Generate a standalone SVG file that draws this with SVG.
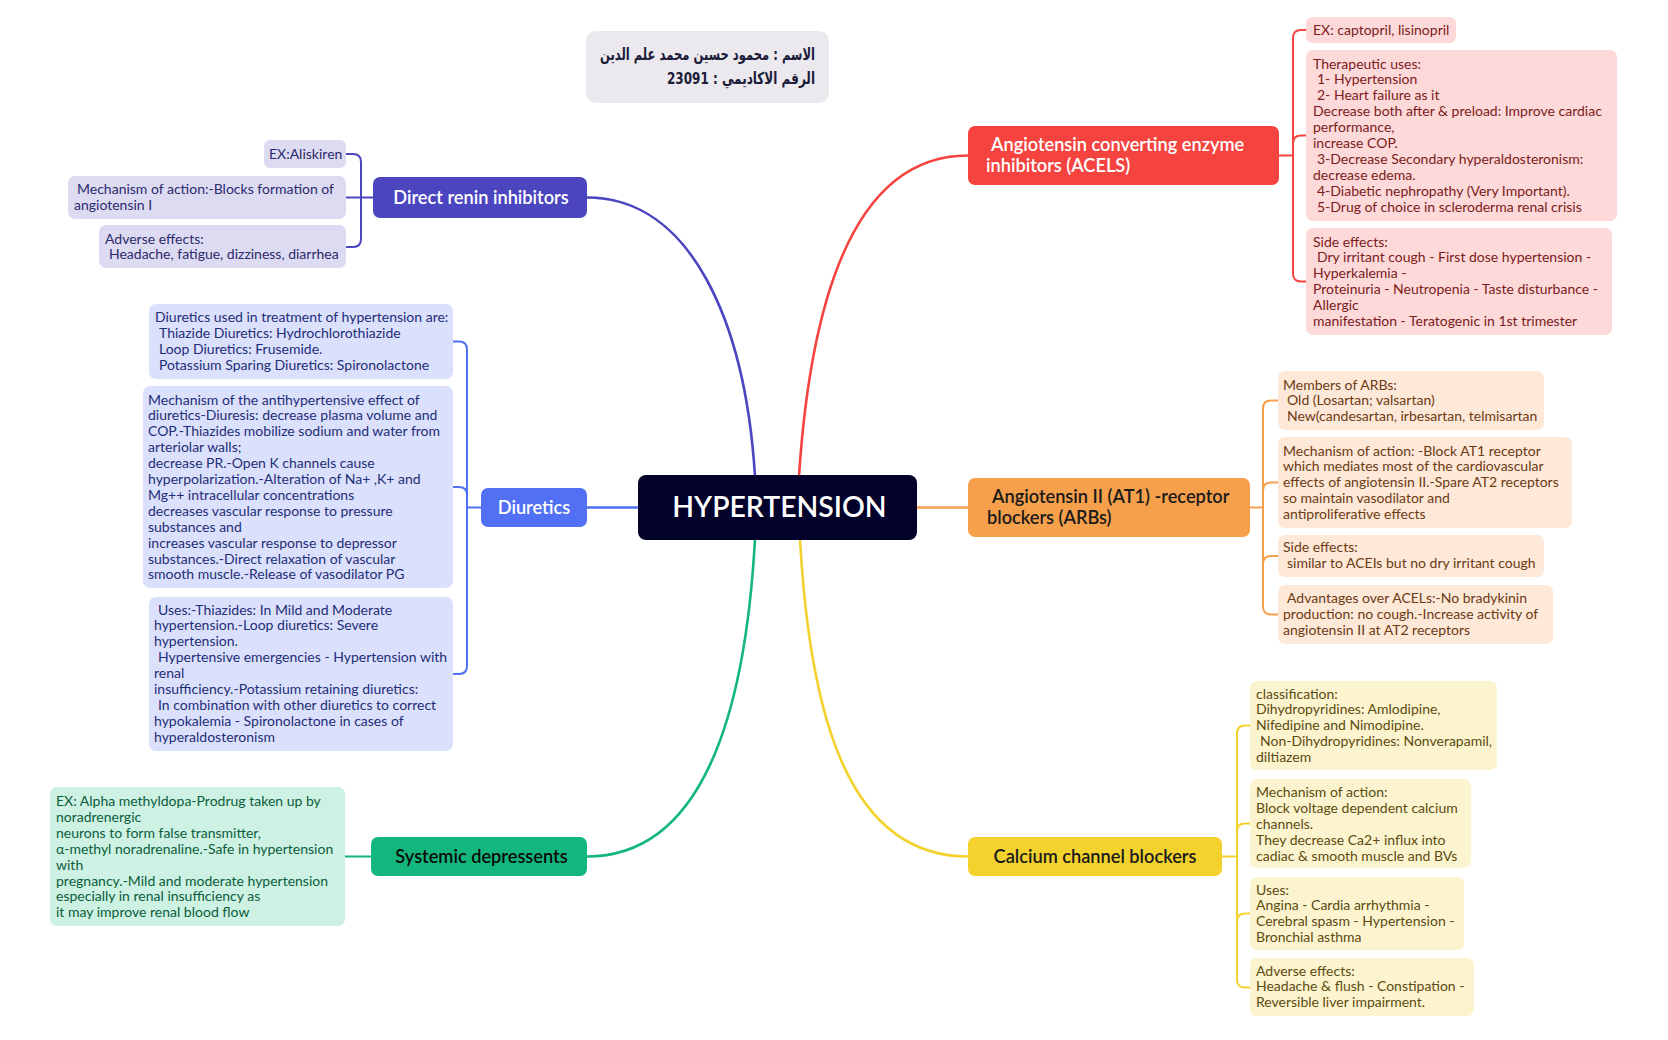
<svg xmlns="http://www.w3.org/2000/svg" width="1668" height="1040" viewBox="0 0 1668 1040">
<style>
text{font-family:Lato,"Noto Sans","DejaVu Sans",sans-serif}
.c{font-size:14px}
.n{font-size:18.2px;font-weight:600}
.br{fill:none;stroke-width:2;stroke-linecap:round}
.main{fill:none;stroke-width:2.6;stroke-linecap:round}
.ind{fill:#4b45bf}.indc{fill:#dcdbf2}.indt{fill:#2c2a6c}
.blu{fill:#5170f3}.bluc{fill:#dbe0fc}.blut{fill:#1e2e78}
.grn{fill:#13b77d}.grnc{fill:#cdf1e3}.grnt{fill:#0c5d3c}
.red{fill:#f5443f}.redc{fill:#fdd9d9}.redt{fill:#7b1b1b}
.org{fill:#f6a04c}.orgc{fill:#fee8d8}.orgt{fill:#6b3b14}
.yel{fill:#f3d22e}.yelc{fill:#fcf4cf}.yelt{fill:#5c4b10}
.ar{font-family:"DejaVu Sans",sans-serif;font-size:16.5px;font-weight:bold;fill:#1b1b3a}
</style>
<rect width="1668" height="1040" fill="#ffffff"/>

<g id="connectors">
<path class="main" stroke="#4b45bf" d="M587,197.5 C690,197.5 745,320 755,476"/>
<path class="main" stroke="#f5443f" d="M799,476 C810,310 850,155.5 968,155.5"/>
<path class="main" stroke="#5170f3" d="M587,507.5 H638"/>
<path class="main" stroke="#f6a04c" d="M917,507.5 H968"/>
<path class="main" stroke="#13b77d" d="M755,539 C745,720 700,856.5 587,856.5"/>
<path class="main" stroke="#f3d22e" d="M800,539 C810,720 850,856.5 968,856.5"/>
<path class="br" stroke="#4b45bf" d="M346,154 H353 Q361,154 361,162 V239 Q361,247 353,247 H346 M346,197.5 H373"/>
<path class="br" stroke="#5170f3" d="M453,341.5 H459 Q467,341.5 467,349.5 V666 Q467,674 459,674 H453 M453,487 H459 Q467,487 467,495 M467,507.5 H481"/>
<path class="br" stroke="#13b77d" d="M345,856.5 H371"/>
<path class="br" stroke="#f5443f" d="M1306,30 H1301 Q1293,30 1293,38 V273.5 Q1293,281.5 1301,281.5 H1306 M1306,135.5 H1301 Q1293,135.5 1293,143.5 M1279,155.5 H1293"/>
<path class="br" stroke="#f6a04c" d="M1278,400.5 H1271 Q1263,400.5 1263,408.5 V606.5 Q1263,614.5 1271,614.5 H1278 M1278,482.5 H1271 Q1263,482.5 1263,490.5 M1278,556 H1271 Q1263,556 1263,564 M1250,507.5 H1263"/>
<path class="br" stroke="#f3d22e" d="M1250,725.5 H1245 Q1237,725.5 1237,733.5 V979.5 Q1237,987.5 1245,987.5 H1250 M1250,823.5 H1245 Q1237,823.5 1237,831.5 M1250,913.5 H1245 Q1237,913.5 1237,921.5 M1222,856.5 H1237"/>
</g>

<g id="title">
<rect x="586" y="31" width="243" height="72" rx="10" fill="#ebe9ee"/>
<text class="ar" x="815" y="60" direction="rtl" text-anchor="start" textLength="215" lengthAdjust="spacingAndGlyphs">الاسم : محمود حسين محمد علم الدين</text>
<text class="ar" x="815" y="84" direction="rtl" text-anchor="start" textLength="148" lengthAdjust="spacingAndGlyphs">الرقم الاكاديمي : 23091</text>
</g>

<g id="center">
<rect x="638" y="475" width="279" height="65" rx="8" fill="#02022a"/>
<text x="779.5" y="517" text-anchor="middle" font-size="28.4" font-weight="600" fill="#ffffff">HYPERTENSION</text>
</g>

<g id="direct-renin">
<rect class="ind" x="373" y="177" width="214" height="41" rx="7"/>
<text class="n" x="481" y="204" text-anchor="middle" fill="#ffffff">Direct renin inhibitors</text>
</g>
<g id="dr-ex">
<rect class="indc" x="264" y="140" width="82" height="28" rx="6"/>
<text class="c indt" x="269" y="159">EX:Aliskiren</text>
</g>
<g id="dr-mech">
<rect class="indc" x="68" y="176" width="278" height="43" rx="7"/>
<text class="c indt"><tspan x="77" y="194">Mechanism of action:-Blocks formation of</tspan><tspan x="74" dy="15.9">angiotensin I</tspan></text>
</g>
<g id="dr-adv">
<rect class="indc" x="99" y="225" width="247" height="43" rx="7"/>
<text class="c indt"><tspan x="105" y="243.5">Adverse effects:</tspan><tspan x="109" dy="15.9">Headache, fatigue, dizziness, diarrhea</tspan></text>
</g>

<g id="diuretics">
<rect class="blu" x="481" y="488" width="106" height="39" rx="7"/>
<text class="n" x="534" y="514" text-anchor="middle" fill="#ffffff">Diuretics</text>
</g>
<g id="diu-1">
<rect class="bluc" x="149" y="304" width="304" height="75" rx="7"/>
<text class="c blut"><tspan x="155" y="322">Diuretics used in treatment of hypertension are:</tspan><tspan x="159" dy="15.9">Thiazide Diuretics: Hydrochlorothiazide</tspan><tspan x="159" dy="15.9">Loop Diuretics: Frusemide.</tspan><tspan x="159" dy="15.9">Potassium Sparing Diuretics: Spironolactone</tspan></text>
</g>
<g id="diu-2">
<rect class="bluc" x="143" y="386" width="310" height="202" rx="7"/>
<text class="c blut"><tspan x="148" y="404.5">Mechanism of the antihypertensive effect of</tspan><tspan x="148" dy="15.9">diuretics-Diuresis: decrease plasma volume and</tspan><tspan x="148" dy="15.9">COP.-Thiazides mobilize sodium and water from</tspan><tspan x="148" dy="15.9">arteriolar walls;</tspan><tspan x="148" dy="15.9">decrease PR.-Open K channels cause</tspan><tspan x="148" dy="15.9">hyperpolarization.-Alteration of Na+ ,K+ and</tspan><tspan x="148" dy="15.9">Mg++ intracellular concentrations</tspan><tspan x="148" dy="15.9">decreases vascular response to pressure</tspan><tspan x="148" dy="15.9">substances and</tspan><tspan x="148" dy="15.9">increases vascular response to depressor</tspan><tspan x="148" dy="15.9">substances.-Direct relaxation of vascular</tspan><tspan x="148" dy="15.9">smooth muscle.-Release of vasodilator PG</tspan></text>
</g>
<g id="diu-3">
<rect class="bluc" x="149" y="597" width="304" height="154" rx="7"/>
<text class="c blut"><tspan x="158" y="614.5">Uses:-Thiazides: In Mild and Moderate</tspan><tspan x="154" dy="15.9">hypertension.-Loop diuretics: Severe</tspan><tspan x="154" dy="15.9">hypertension.</tspan><tspan x="158" dy="15.9">Hypertensive emergencies - Hypertension with</tspan><tspan x="154" dy="15.9">renal</tspan><tspan x="154" dy="15.9">insufficiency.-Potassium retaining diuretics:</tspan><tspan x="158" dy="15.9">In combination with other diuretics to correct</tspan><tspan x="154" dy="15.9">hypokalemia - Spironolactone in cases of</tspan><tspan x="154" dy="15.9">hyperaldosteronism</tspan></text>
</g>

<g id="systemic">
<rect class="grn" x="371" y="837" width="216" height="39" rx="7"/>
<text class="n" x="481.5" y="863" text-anchor="middle" fill="#0a0a0a">Systemic depressents</text>
</g>
<g id="sys-1">
<rect class="grnc" x="50" y="787" width="295" height="139" rx="7"/>
<text class="c grnt"><tspan x="56" y="806">EX: Alpha methyldopa-Prodrug taken up by</tspan><tspan x="56" dy="15.9">noradrenergic</tspan><tspan x="56" dy="15.9">neurons to form false transmitter,</tspan><tspan x="56" dy="15.9">α-methyl noradrenaline.-Safe in hypertension</tspan><tspan x="56" dy="15.9">with</tspan><tspan x="56" dy="15.9">pregnancy.-Mild and moderate hypertension</tspan><tspan x="56" dy="15.9">especially in renal insufficiency as</tspan><tspan x="56" dy="15.9">it may improve renal blood flow</tspan></text>
</g>

<g id="ace">
<rect class="red" x="968" y="126" width="311" height="59" rx="7"/>
<text class="n" fill="#ffffff"><tspan x="991" y="151">Angiotensin converting enzyme</tspan><tspan x="986" dy="20.5">inhibitors (ACELS)</tspan></text>
</g>
<g id="ace-ex">
<rect class="redc" x="1306" y="17" width="150" height="26" rx="6"/>
<text class="c redt" x="1313" y="34.5">EX: captopril, lisinopril</text>
</g>
<g id="ace-uses">
<rect class="redc" x="1306" y="50" width="311" height="171" rx="7"/>
<text class="c redt"><tspan x="1313" y="68.5">Therapeutic uses:</tspan><tspan x="1317" dy="15.9">1- Hypertension</tspan><tspan x="1317" dy="15.9">2- Heart failure as it</tspan><tspan x="1313" dy="15.9">Decrease both after &amp; preload: Improve cardiac</tspan><tspan x="1313" dy="15.9">performance,</tspan><tspan x="1313" dy="15.9">increase COP.</tspan><tspan x="1317" dy="15.9">3-Decrease Secondary hyperaldosteronism:</tspan><tspan x="1313" dy="15.9">decrease edema.</tspan><tspan x="1317" dy="15.9">4-Diabetic nephropathy (Very Important).</tspan><tspan x="1317" dy="15.9">5-Drug of choice in scleroderma renal crisis</tspan></text>
</g>
<g id="ace-side">
<rect class="redc" x="1306" y="228" width="306" height="107" rx="7"/>
<text class="c redt"><tspan x="1313" y="246.5">Side effects:</tspan><tspan x="1317" dy="15.9">Dry irritant cough - First dose hypertension -</tspan><tspan x="1313" dy="15.9">Hyperkalemia -</tspan><tspan x="1313" dy="15.9">Proteinuria - Neutropenia - Taste disturbance -</tspan><tspan x="1313" dy="15.9">Allergic</tspan><tspan x="1313" dy="15.9">manifestation - Teratogenic in 1st trimester</tspan></text>
</g>

<g id="arb">
<rect class="org" x="968" y="478" width="282" height="59" rx="7"/>
<text class="n" fill="#1a1a1a"><tspan x="992" y="503">Angiotensin II (AT1) -receptor</tspan><tspan x="987" dy="20.5">blockers (ARBs)</tspan></text>
</g>
<g id="arb-members">
<rect class="orgc" x="1278" y="371" width="266" height="59" rx="7"/>
<text class="c orgt"><tspan x="1283" y="389.5">Members of ARBs:</tspan><tspan x="1287" dy="15.9">Old (Losartan; valsartan)</tspan><tspan x="1287" dy="15.9">New(candesartan, irbesartan, telmisartan</tspan></text>
</g>
<g id="arb-mech">
<rect class="orgc" x="1278" y="437" width="294" height="91" rx="7"/>
<text class="c orgt"><tspan x="1283" y="455.5">Mechanism of action: -Block AT1 receptor</tspan><tspan x="1283" dy="15.9">which mediates most of the cardiovascular</tspan><tspan x="1283" dy="15.9">effects of angiotensin II.-Spare AT2 receptors</tspan><tspan x="1283" dy="15.9">so maintain vasodilator and</tspan><tspan x="1283" dy="15.9">antiproliferative effects</tspan></text>
</g>
<g id="arb-side">
<rect class="orgc" x="1278" y="535" width="266" height="42" rx="7"/>
<text class="c orgt"><tspan x="1283" y="552">Side effects:</tspan><tspan x="1287" dy="15.9">similar to ACEIs but no dry irritant cough</tspan></text>
</g>
<g id="arb-adv">
<rect class="orgc" x="1278" y="585" width="275" height="59" rx="7"/>
<text class="c orgt"><tspan x="1287" y="603">Advantages over ACELs:-No bradykinin</tspan><tspan x="1283" dy="15.9">production: no cough.-Increase activity of</tspan><tspan x="1283" dy="15.9">angiotensin II at AT2 receptors</tspan></text>
</g>

<g id="ccb">
<rect class="yel" x="968" y="837" width="254" height="39" rx="7"/>
<text class="n" x="1095" y="863" text-anchor="middle" fill="#1a1a1a">Calcium channel blockers</text>
</g>
<g id="ccb-class">
<rect class="yelc" x="1250" y="681" width="247" height="89" rx="7"/>
<text class="c yelt"><tspan x="1256" y="698.5">classification:</tspan><tspan x="1256" dy="15.9">Dihydropyridines: Amlodipine,</tspan><tspan x="1256" dy="15.9">Nifedipine and Nimodipine.</tspan><tspan x="1260" dy="15.9">Non-Dihydropyridines: Nonverapamil,</tspan><tspan x="1256" dy="15.9">diltiazem</tspan></text>
</g>
<g id="ccb-mech">
<rect class="yelc" x="1250" y="779" width="221" height="89" rx="7"/>
<text class="c yelt"><tspan x="1256" y="797">Mechanism of action:</tspan><tspan x="1256" dy="15.9">Block voltage dependent calcium</tspan><tspan x="1256" dy="15.9">channels.</tspan><tspan x="1256" dy="15.9">They decrease Ca2+ influx into</tspan><tspan x="1256" dy="15.9">cadiac &amp; smooth muscle and BVs</tspan></text>
</g>
<g id="ccb-uses">
<rect class="yelc" x="1250" y="877" width="214" height="73" rx="7"/>
<text class="c yelt"><tspan x="1256" y="894.5">Uses:</tspan><tspan x="1256" dy="15.9">Angina - Cardia arrhythmia -</tspan><tspan x="1256" dy="15.9">Cerebral spasm - Hypertension -</tspan><tspan x="1256" dy="15.9">Bronchial asthma</tspan></text>
</g>
<g id="ccb-adv">
<rect class="yelc" x="1250" y="958" width="224" height="58" rx="7"/>
<text class="c yelt"><tspan x="1256" y="975.5">Adverse effects:</tspan><tspan x="1256" dy="15.9">Headache &amp; flush - Constipation -</tspan><tspan x="1256" dy="15.9">Reversible liver impairment.</tspan></text>
</g>
</svg>
